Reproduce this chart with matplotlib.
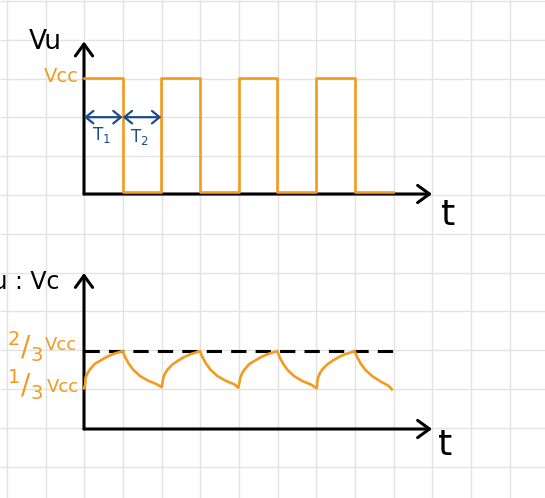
import matplotlib.pyplot as plt
import numpy as np

# ─────────────────────────────────────────────
# Data (time in units of one half period T, voltage in units of Vcc)
# ─────────────────────────────────────────────
pulse_t = [0, 1, 2, 3, 4, 5, 6, 7, 8]
pulse_v = [1.0, 0.02, 1.0, 0.02, 1.0, 0.02, 1.0, 0.02]

# capacitor voltage (charge / discharge arcs)
cap_t = [0.00, 0.03, 0.04, 0.09, 0.16, 0.28, 0.41, 0.59, 0.76, 0.91, 1.00,
         1.06, 1.15, 1.27, 1.45, 1.66, 1.88, 2.01,
         2.03, 2.05, 2.10, 2.17, 2.29, 2.42, 2.60, 2.77, 2.92, 3.00,
         3.06, 3.15, 3.27, 3.45, 3.66, 3.88, 3.99,
         4.02, 4.04, 4.09, 4.16, 4.28, 4.41, 4.59, 4.76, 4.91, 5.00,
         5.06, 5.15, 5.27, 5.45, 5.66, 5.88, 6.02,
         6.03, 6.05, 6.10, 6.17, 6.29, 6.42, 6.60, 6.77, 6.92, 7.00,
         7.06, 7.15, 7.27, 7.45, 7.66, 7.88, 7.96]
cap_v = [0.35, 0.38, 0.44, 0.48, 0.515, 0.56, 0.585, 0.62, 0.645, 0.66, 0.67,
         0.62, 0.565, 0.51, 0.455, 0.415, 0.385, 0.36,
         0.40, 0.44, 0.48, 0.515, 0.555, 0.585, 0.62, 0.645, 0.66, 0.67,
         0.62, 0.565, 0.51, 0.455, 0.415, 0.385, 0.355,
         0.40, 0.44, 0.48, 0.515, 0.56, 0.585, 0.62, 0.645, 0.66, 0.67,
         0.615, 0.56, 0.505, 0.45, 0.41, 0.38, 0.35,
         0.40, 0.44, 0.48, 0.515, 0.555, 0.585, 0.62, 0.645, 0.66, 0.67,
         0.62, 0.565, 0.51, 0.455, 0.41, 0.37, 0.34]

thr_high = 0.67          # 2/3 Vcc comparator level
dash_end = 8.1
span_marks = [0, 1, 2]   # T1 / T2 arrows
span_level = 0.66
axis_end_t = 9
axis_end_v_top = 1.31
axis_end_v_bot = 1.34

ORANGE = "#f39a1f"
BLUE = "#1d4c8c"
GRID = "#e2e2e2"

W, H = 545, 498
GX, GY = 38.67, 38.8     # grid cell in pixels

fig = plt.figure(figsize=(W / 100, H / 100), dpi=100, facecolor="white")

# grid paper background
bg = fig.add_axes([0, 0, 1, 1])
bg.set_xlim(0, W)
bg.set_ylim(H, 0)
bg.axis("off")
bg.vlines(np.arange(7, W, GX), 0, H, color=GRID, lw=1.0, zorder=0)
bg.hlines(np.arange(1, H, GY), 0, W, color=GRID, lw=1.0, zorder=0)


def panel(x0, y0, sx, sy):
    """Axes whose data origin sits at pixel (x0, y0), sx px per T, sy px per Vcc."""
    ax = fig.add_axes([(x0 - 2 * sx) / W, (H - y0 - 0.5 * sy) / H,
                       13 * sx / W, 2.0 * sy / H])
    ax.set_xlim(-2, 11)
    ax.set_ylim(-0.5, 1.5)
    ax.axis("off")
    return ax


def axis_arrow(ax, xy):
    ax.annotate("", xy=xy, xytext=(0, 0), annotation_clip=False,
                arrowprops=dict(arrowstyle="->,head_length=0.85,head_width=0.62",
                                lw=2.2, color="black", shrinkA=0, shrinkB=0),
                zorder=2)


# ── top: output square wave ──
top = panel(84, 194, GX, 116.4)
axis_arrow(top, (0, axis_end_v_top))
axis_arrow(top, (axis_end_t, 0))
top.step(pulse_t, pulse_v + [pulse_v[-1]], where="post", color=ORANGE, lw=1.9,
         zorder=3, clip_on=False)
for a, b in zip(span_marks[:-1], span_marks[1:]):
    top.annotate("", xy=(b, span_level), xytext=(a, span_level),
                 arrowprops=dict(arrowstyle="<->,head_length=0.55,head_width=0.45",
                                 lw=1.6, color=BLUE, shrinkA=0, shrinkB=0),
                 zorder=4)

# ── bottom: capacitor voltage ──
bot = panel(84, 429, GX, 116.4)
axis_arrow(bot, (0, axis_end_v_bot))
axis_arrow(bot, (axis_end_t, 0))
bot.plot([0, dash_end], [thr_high, thr_high], color="black", lw=2.2,
         dashes=(5, 3), zorder=2, clip_on=False)
bot.plot(cap_t, cap_v, color=ORANGE, lw=1.9, zorder=3, clip_on=False,
         solid_joinstyle="round")

# ── labels (pixel positions on the page) ──
bg.text(45, 42, "Vu", fontsize=19, color="black", ha="center", va="center")
bg.text(61, 76, "Vcc", fontsize=14, color=ORANGE, ha="center", va="center")
bg.text(101, 135, r"$\mathregular{T_1}$", fontsize=12, color=BLUE, ha="center", va="center")
bg.text(139, 137, r"$\mathregular{T_2}$", fontsize=12, color=BLUE, ha="center", va="center")
bg.text(448, 215, "t", fontsize=26, color="black", ha="center", va="center")

bg.text(60, 282, "Vu : Vc", fontsize=17, color="black", ha="right", va="center")
bg.text(25, 347, r"$\mathregular{^2/_3}$", fontsize=20, color=ORANGE, ha="center", va="center")
bg.text(61, 345, "Vcc", fontsize=13, color=ORANGE, ha="center", va="center")
bg.text(25, 385, r"$\mathregular{^1/_3}$", fontsize=20, color=ORANGE, ha="center", va="center")
bg.text(63, 387, "Vcc", fontsize=13, color=ORANGE, ha="center", va="center")
bg.text(445, 445, "t", fontsize=26, color="black", ha="center", va="center")

plt.savefig("out.png", dpi=100, facecolor=fig.get_facecolor())
